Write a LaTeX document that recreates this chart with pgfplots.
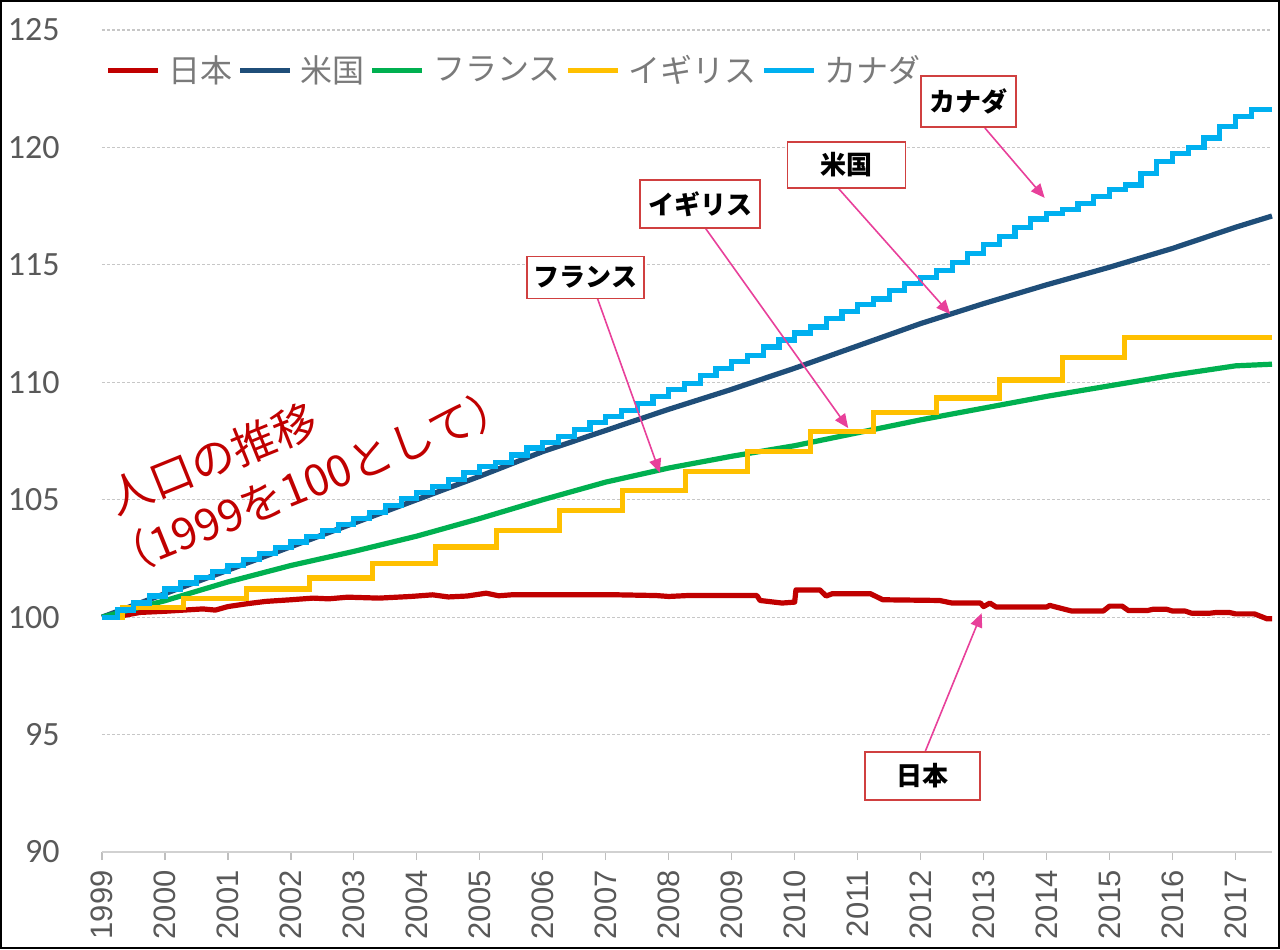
\documentclass[border=0pt]{standalone}
\usepackage{fontspec}
\usepackage{pgfplots}
\pgfplotsset{compat=1.18}
\usetikzlibrary{arrows.meta}
\setmainfont{Liberation Sans}
\newfontfamily\jp{Noto Sans CJK JP}
\newfontfamily\calib{Carlito}
\definecolor{cJP}{HTML}{C00000}
\definecolor{cUS}{HTML}{1F4E79}
\definecolor{cFR}{HTML}{00B050}
\definecolor{cUK}{HTML}{FFC000}
\definecolor{cCA}{HTML}{00B0F0}
\definecolor{ticktext}{HTML}{595959}
\definecolor{pinkarrow}{HTML}{E8409A}
\definecolor{boxred}{HTML}{D04040}
\begin{document}
\begin{tikzpicture}
\useasboundingbox (0,0) rectangle (640pt,474.5pt);
\draw[line width=1.2pt] (0.6pt,0.6pt) rectangle (639.4pt,473.9pt);
\begin{axis}[
 at={(51pt,48.5pt)}, anchor=south west, scale only axis, width=585pt, height=411pt,
 clip=false,
 xmin=1999, xmax=2017.58, ymin=90, ymax=125,
 xtick={1999,2000,2001,2002,2003,2004,2005,2006,2007,2008,2009,2010,2011,2012,2013,2014,2015,2016,2017},
 xticklabels={1999,2000,2001,2002,2003,2004,2005,2006,2007,2008,2009,2010,2011,2012,2013,2014,2015,2016,2017},
 ytick={90,95,100,105,110,115,120,125},
 yticklabels={90,95,100,105,110,115,120,125},
 axis x line*=bottom, axis y line*=left,
 x axis line style={draw=black!18, line width=0.7pt},
 y axis line style={draw=none},
 ytick style={draw=none},
 xtick style={draw=black!25, line width=0.6pt},
 tick align=outside, major tick length=4pt,
 ymajorgrids, grid style={black!22, line width=0.6pt, dash pattern=on 1.5pt off 1pt},
 xticklabel style={rotate=90, anchor=east, font=\fontsize{15.5}{16}\selectfont, text=ticktext, inner sep=0pt},
 xticklabel shift=5pt,
 yticklabel style={anchor=east, font=\calib\fontsize{17}{18}\selectfont, text=ticktext, inner sep=0pt},
 yticklabel shift=17pt,
 legend style={at={(0.0026,0.951)}, anchor=west, draw=none, fill=none, inner sep=0pt,
   legend columns=-1, font=\jp\fontsize{16}{17}\selectfont, text=black!52,
   /tikz/every odd column/.append style={column sep=4pt},
   /tikz/every even column/.append style={column sep=2.5pt},
   nodes={inner sep=0pt}},
 legend image code/.code={\draw[#1, line width=2.6pt] (0pt,0pt) -- (25pt,0pt);},
]
\addplot[cJP, line width=2.6pt, line join=round] coordinates {
(1999,100.0)(1999.3,100.05)(1999.6,100.2)(2000,100.25)(2000.3,100.3)(2000.6,100.35)(2000.8,100.3)
(2001,100.45)(2001.3,100.57)(2001.6,100.67)(2002,100.74)(2002.35,100.81)(2002.6,100.78)(2002.9,100.85)
(2003.4,100.81)(2003.9,100.88)(2004.25,100.95)(2004.5,100.86)(2004.8,100.9)(2005.1,101.02)(2005.3,100.91)
(2005.5,100.95)(2006,100.95)(2006.6,100.95)(2007.2,100.95)(2007.8,100.92)(2008,100.88)(2008.3,100.92)
(2009.4,100.92)(2009.45,100.71)(2009.8,100.6)(2010,100.64)(2010.02,101.16)(2010.4,101.16)(2010.5,100.9)
(2010.6,101.0)(2011.2,101.0)(2011.4,100.74)(2012.3,100.71)(2012.5,100.6)(2012.95,100.6)(2013.0,100.45)
(2013.1,100.6)(2013.2,100.43)(2014.0,100.43)(2014.05,100.5)(2014.15,100.43)(2014.4,100.26)(2014.9,100.26)
(2015.0,100.47)(2015.2,100.47)(2015.3,100.28)(2015.6,100.28)(2015.7,100.34)(2015.9,100.34)(2016.0,100.26)
(2016.2,100.26)(2016.3,100.17)(2016.6,100.17)(2016.7,100.2)(2016.9,100.2)(2017.0,100.14)(2017.3,100.14)
(2017.5,99.93)(2017.58,99.93)};
\addlegendentry{日本}
\addplot[cUS, line width=2.6pt, line join=round] coordinates {
(1999,100)(2000,101)(2001,102)(2002,103)(2003,104)(2004,105)(2005,106)(2006,107.05)(2007,107.95)
(2008,108.85)(2009,109.7)(2010,110.6)(2011,111.55)(2012,112.5)(2013,113.35)(2014,114.15)(2015,114.9)
(2016,115.7)(2017,116.6)(2017.58,117.08)};
\addlegendentry{米国}
\addplot[cFR, line width=2.6pt, line join=round] coordinates {
(1999,100)(2000,100.7)(2001,101.5)(2002,102.2)(2003,102.8)(2004,103.45)(2005,104.2)(2006,105.0)
(2007,105.75)(2008,106.35)(2009,106.85)(2010,107.3)(2011,107.85)(2012,108.4)(2013,108.9)(2014,109.4)
(2015,109.85)(2016,110.3)(2017,110.7)(2017.58,110.77)};
\addlegendentry{フランス}
\addplot[cUK, line width=2.6pt, const plot] coordinates {
(1999,100.0)(1999.33,100.4)(2000.29,100.78)(2001.3,101.2)(2002.3,101.67)(2003.3,102.27)(2004.3,102.99)
(2005.27,103.7)(2006.27,104.55)(2007.27,105.4)(2008.27,106.2)(2009.25,107.05)(2010.25,107.9)
(2011.25,108.7)(2012.25,109.33)(2013.25,110.1)(2014.25,111.05)(2015.24,111.9)(2017.58,111.9)};
\addlegendentry{イギリス}
\addplot[cCA, line width=2.6pt, const plot] coordinates {
(1999,100.0)(1999.25,100.3)(1999.5,100.6)(1999.75,100.9)
(2000,101.2)(2000.25,101.45)(2000.5,101.7)(2000.75,101.95)
(2001,102.2)(2001.25,102.45)(2001.5,102.7)(2001.75,102.95)
(2002,103.2)(2002.25,103.45)(2002.5,103.7)(2002.75,103.95)
(2003,104.2)(2003.25,104.45)(2003.5,104.75)(2003.75,105.05)
(2004,105.3)(2004.25,105.55)(2004.5,105.85)(2004.75,106.15)
(2005,106.4)(2005.25,106.6)(2005.5,106.9)(2005.75,107.2)
(2006,107.45)(2006.25,107.7)(2006.5,108.0)(2006.75,108.3)
(2007,108.55)(2007.25,108.8)(2007.5,109.1)(2007.75,109.4)
(2008,109.7)(2008.25,109.95)(2008.5,110.3)(2008.75,110.6)
(2009,110.9)(2009.25,111.15)(2009.5,111.5)(2009.75,111.8)
(2010,112.1)(2010.25,112.35)(2010.5,112.7)(2010.75,113.0)
(2011,113.3)(2011.25,113.55)(2011.5,113.9)(2011.75,114.2)
(2012,114.45)(2012.25,114.75)(2012.5,115.1)(2012.75,115.5)
(2013,115.85)(2013.25,116.2)(2013.5,116.6)(2013.75,116.95)
(2014,117.2)(2014.25,117.35)(2014.5,117.6)(2014.75,117.9)
(2015,118.2)(2015.25,118.4)(2015.5,118.9)(2015.75,119.4)
(2016,119.75)(2016.25,120.0)(2016.5,120.4)(2016.75,120.9)
(2017,121.3)(2017.25,121.6)(2017.58,121.6)};
\addlegendentry{カナダ}
\tikzset{lbl/.style={draw=boxred, line width=0.8pt, fill=white, font=\jp\bfseries\fontsize{13}{14}\selectfont, minimum height=24pt, inner sep=0pt, text=black},
 arr/.style={pinkarrow, line width=0.8pt, -{Triangle[length=7pt,width=6pt]}}}
\draw[arr] (axis cs:2013.02,120.83) -- (axis cs:2013.97,117.85);
\draw[arr] (axis cs:2010.69,118.27) -- (axis cs:2012.47,112.9);
\draw[arr] (axis cs:2008.58,116.57) -- (axis cs:2010.85,108.05);
\draw[arr] (axis cs:2006.86,113.63) -- (axis cs:2007.86,106.14);
\draw[arr] (axis cs:2012.07,94.26) -- (axis cs:2012.97,100.17);
\node[lbl, minimum width=47.5pt, minimum height=25.5pt] at (axis cs:2012.76,121.96) {カナダ};
\node[lbl, minimum width=59pt, minimum height=23pt] at (axis cs:2010.82,119.25) {米国};
\node[lbl, minimum width=60pt] at (axis cs:2008.5,117.6) {イギリス};
\node[lbl, minimum width=58.5pt, minimum height=21pt] at (axis cs:2006.68,114.46) {フランス};
\node[lbl, minimum width=57.5pt] at (axis cs:2012.03,93.24) {日本};
\node[rotate=22, text=cJP, font=\jp\fontsize{22}{29}\selectfont, align=left, inner sep=0pt] at (axis cs:2002.15,106.9) {\hspace*{12pt}人口の推移\\（1999を100として）};
\end{axis}
\end{tikzpicture}
\end{document}
